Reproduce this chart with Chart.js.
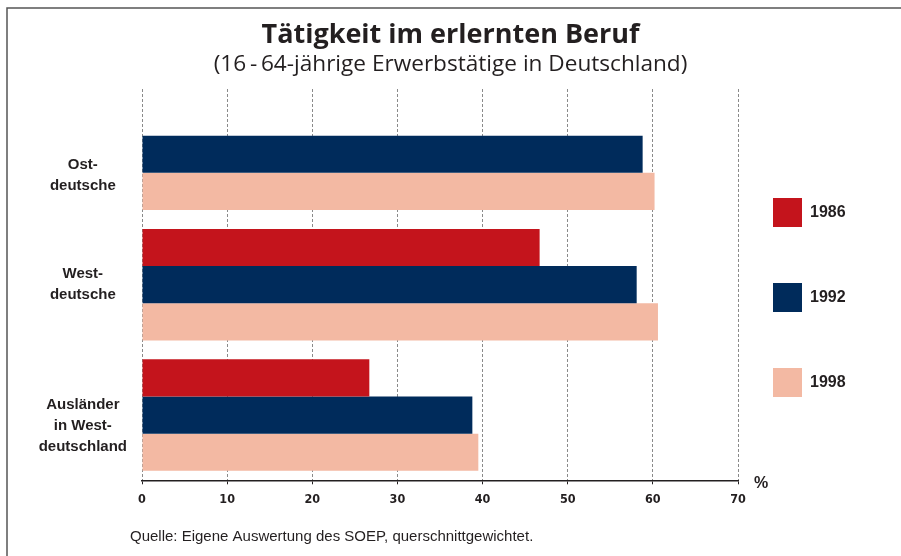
<!DOCTYPE html>
<html>
<head>
<meta charset="utf-8">
<script src="https://cdn.jsdelivr.net/npm/chart.js@4"></script>
<style>
    body { margin: 0; background: #fff; }
</style>
</head>
<body>
<canvas id="grafico" width="901" height="556"></canvas>
<script>
// Kategorien (leere Zeilen schieben die Beschriftung etwas nach unten)
const kategorien = [
    ['', '', 'Ost-', 'deutsche'],
    ['West-', 'deutsche'],
    ['', 'Ausländer', 'in West-', 'deutschland']
];

const jahre = ['1986', '1992', '1998'];
const farben = ['#C4141C', '#002B5B', '#F3B9A3'];

// Werte in %
const werte1986 = [null, 46.7, 26.7];
const werte1992 = [58.8, 58.1, 38.8];
const werte1998 = [60.2, 60.6, 39.5];

const xTicks = [0, 10, 20, 30, 40, 50, 60, 70];

const titel = 'Tätigkeit im erlernten Beruf';
const untertitel = '(16\u2009-\u200964-jährige Erwerbstätige in Deutschland)';
const quelle = 'Quelle: Eigene Auswertung des SOEP, querschnittgewichtet.';

const textFarbe = '#231f20';

const extras = {
    id: 'extras',
    beforeDraw(chart) {
        const ctx = chart.ctx;
        ctx.save();
        ctx.fillStyle = '#fff';
        ctx.fillRect(0, 0, chart.width, chart.height);

        // Rahmen oben und links
        ctx.strokeStyle = '#555';
        ctx.lineWidth = 1.5;
        ctx.beginPath();
        ctx.moveTo(7, chart.height);
        ctx.lineTo(7, 8);
        ctx.lineTo(chart.width, 8);
        ctx.stroke();
        ctx.restore();
    },
    afterDraw(chart) {
        const ctx = chart.ctx;
        const area = chart.chartArea;
        const x = chart.scales.x;
        ctx.save();

        // Titel, über die ganze Breite zentriert
        ctx.fillStyle = textFarbe;
        ctx.textAlign = 'center';
        ctx.textBaseline = 'middle';
        ctx.font = 'bold 27px "Open Sans", sans-serif';
        ctx.fillText(titel, chart.width / 2, 35);
        ctx.font = '22.6px "Open Sans", sans-serif';
        ctx.fillText(untertitel, chart.width / 2, 65);

        // Legende
        ctx.font = 'bold 16px "Liberation Sans", Arial, sans-serif';
        ctx.textAlign = 'left';
        chart.data.datasets.forEach((ds, i) => {
            const y = 198 + i * 85;
            ctx.fillStyle = ds.backgroundColor;
            ctx.fillRect(area.right + 35, y, 29, 29);
            ctx.fillStyle = textFarbe;
            ctx.fillText(ds.label, area.right + 72, y + 15);
        });

        // Einheit
        ctx.fillText('%', x.right + 16, x.top + 3);

        // Quelle
        ctx.font = '15px "Liberation Sans", Arial, sans-serif';
        ctx.fillText(quelle, 130, 537);
        ctx.restore();
    }
};

new Chart(document.getElementById('grafico'), {
    type: 'bar',

    data: {
        labels: kategorien,
        datasets: [{
            label: jahre[0],
            data: werte1986,
            backgroundColor: farben[0]
        }, {
            label: jahre[1],
            data: werte1992,
            backgroundColor: farben[1]
        }, {
            label: jahre[2],
            data: werte1998,
            backgroundColor: farben[2]
        }]
    },

    options: {
        indexAxis: 'y',
        responsive: false,
        animation: false,
        categoryPercentage: 0.855,
        barPercentage: 1,

        layout: {
            padding: { top: 89, right: 163, bottom: 40.7, left: 0 }
        },

        plugins: {
            legend: { display: false },
            tooltip: { enabled: false },
            title: { display: false }
        },

        scales: {
            x: {
                min: 0,
                max: 70,
                afterBuildTicks(scale) {
                    scale.ticks = xTicks.map(v => ({ value: v }));
                },
                ticks: {
                    color: textFarbe,
                    padding: 8,
                    font: {
                        family: '"Liberation Sans Narrow", "DejaVu Sans Condensed", sans-serif',
                        size: 12.5,
                        weight: 'bold'
                    }
                },
                grid: {
                    color: '#8a8a8a',
                    lineWidth: 1,
                    tickLength: 4,
                    tickColor: textFarbe,
                    tickWidth: 1
                },
                border: {
                    display: true,
                    color: textFarbe,
                    width: 1.5,
                    dash: [3, 2]
                }
            },

            y: {
                afterFit(scale) {
                    scale.width = 142;
                },
                ticks: {
                    color: textFarbe,
                    padding: 15,
                    crossAlign: 'center',
                    font: {
                        family: '"Liberation Sans", Arial, sans-serif',
                        size: 15,
                        weight: 'bold',
                        lineHeight: 1.4
                    }
                },
                grid: { display: false, drawTicks: false },
                border: { display: false }
            }
        }
    },

    plugins: [extras]
});
</script>
</body>
</html>
